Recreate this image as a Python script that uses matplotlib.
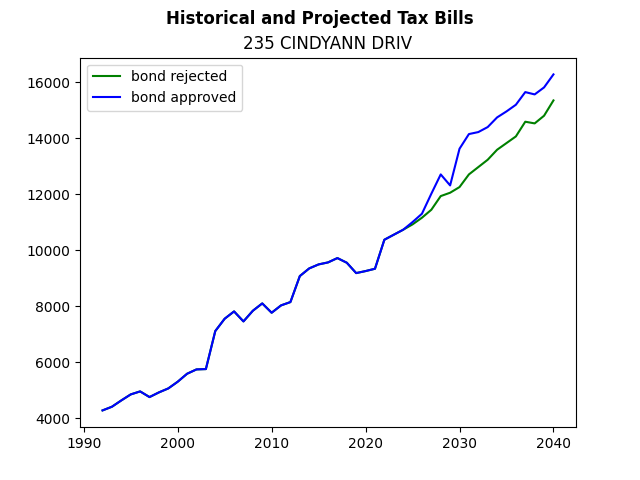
import matplotlib
matplotlib.use("Agg")
import matplotlib.pyplot as plt

years = list(range(1992, 2041))

history = [4286, 4417, 4643, 4857, 4964, 4762, 4929, 5071, 5310, 5595,
           5750, 5762, 7119, 7560, 7821, 7464, 7845, 8107, 7774, 8036,
           8155, 9083, 9357, 9500, 9571, 9726, 9560, 9190, 9262, 9345,
           10381, 10560, 10738]

rejected_future = [10929, 11167, 11452, 11940, 12060, 12262, 12714, 12976,
                   13238, 13595, 13833, 14071, 14596, 14536, 14810, 15357]
approved_future = [11012, 11310, 12024, 12714, 12321, 13631, 14155, 14226,
                   14405, 14750, 14964, 15202, 15654, 15571, 15821, 16286]

bond_rejected = history + rejected_future
bond_approved = history + approved_future

fig = plt.figure(figsize=(6.4, 4.8), dpi=100)
ax = fig.add_subplot(111)
ax.plot(years, bond_rejected, color='green', label='bond rejected')
ax.plot(years, bond_approved, color='blue', label='bond approved')
fig.suptitle('Historical and Projected Tax Bills', fontweight='bold')
ax.set_title('235 CINDYANN DRIV')
ax.legend(loc='upper left')

fig.savefig('out.png')
